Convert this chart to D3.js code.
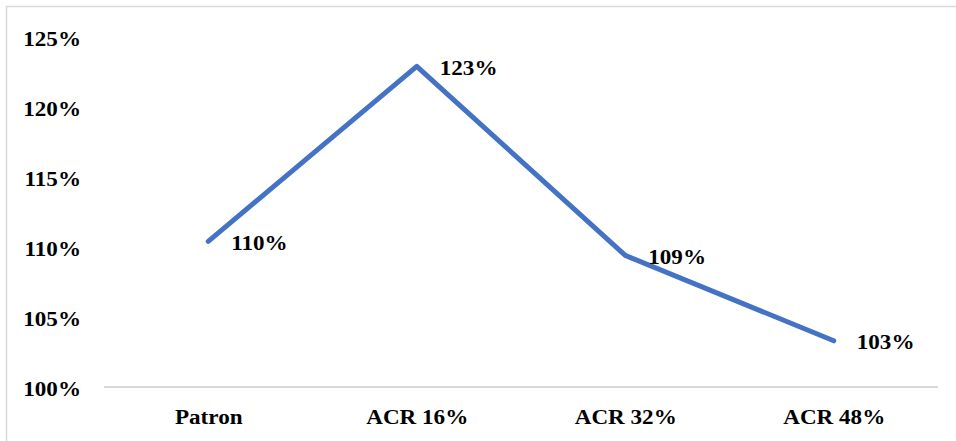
<!DOCTYPE html>
<html>
<head>
<meta charset="utf-8">
<script src="https://cdn.jsdelivr.net/npm/d3@7"></script>
<style>
  html, body { margin: 0; padding: 0; background: #fff; }
  svg { display: block; }
  text { font-family: "Liberation Serif", "Times New Roman", serif; font-weight: bold; fill: #000; }
</style>
</head>
<body>
<svg id="chart" width="956" height="441"></svg>
<script>
// Categories and measured ratios
const categories = ["Patron", "ACR 16%", "ACR 32%", "ACR 48%"];
const values = [1.104, 1.229, 1.094, 1.033];
const yTicks = [1.00, 1.05, 1.10, 1.15, 1.20, 1.25];

const W = 956, H = 441;
const plot = { left: 104, right: 938, top: 37, bottom: 387 };
const fontSize = 21;
const stretch = 1.1;   // wide rendering of the serif labels

const svg = d3.select("#chart");

// outer frame (top and left edges visible)
svg.append("rect")
  .attr("x", 6.5).attr("y", 6.5)
  .attr("width", W + 20).attr("height", H + 20)
  .attr("fill", "none")
  .attr("stroke", "#d9d9d9")
  .attr("stroke-width", 1.5);

const x = d3.scalePoint().domain(categories).range([plot.left, plot.right]).padding(0.5);
const y = d3.scaleLinear().domain([1.00, 1.25]).range([plot.bottom, plot.top]);
const pct = d3.format(".0%");

// y axis: labels only
const yAxis = svg.append("g")
  .attr("transform", `translate(${plot.left},0)`)
  .call(d3.axisLeft(y).tickValues(yTicks).tickFormat(pct).tickSize(0).tickPadding(0));
yAxis.select(".domain").remove();
yAxis.selectAll("text")
  .attr("x", 0)
  .attr("dy", "0.35em")
  .attr("transform", `translate(-23,1) scale(${stretch},1)`)
  .attr("text-anchor", "end")
  .style("font-size", fontSize + "px")
  .style("font-family", "'Liberation Serif', 'Times New Roman', serif")
  .style("font-weight", "bold")
  .attr("fill", "#000");

// x axis: baseline plus category labels
const xAxis = svg.append("g")
  .attr("transform", `translate(0,${plot.bottom})`)
  .call(d3.axisBottom(x).tickSize(0).tickPadding(0));
xAxis.select(".domain")
  .attr("d", `M${plot.left},0H${plot.right}`)
  .attr("stroke", "#d9d9d9")
  .attr("stroke-width", 2);
xAxis.selectAll("text")
  .attr("y", 0)
  .attr("dy", 0)
  .attr("transform", `translate(0,37) scale(${stretch},1)`)
  .attr("text-anchor", "middle")
  .style("font-size", fontSize + "px")
  .style("font-family", "'Liberation Serif', 'Times New Roman', serif")
  .style("font-weight", "bold")
  .attr("fill", "#000");

const data = categories.map((c, i) => ({ c, v: values[i] }));

// series line
svg.append("path")
  .datum(data)
  .attr("fill", "none")
  .attr("stroke", "#4472c4")
  .attr("stroke-width", 5)
  .attr("stroke-linecap", "round")
  .attr("stroke-linejoin", "round")
  .attr("d", d3.line().x(d => x(d.c)).y(d => y(d.v)));

// value labels to the right of each point
svg.append("g").selectAll("text")
  .data(data)
  .join("text")
  .attr("transform", d => `translate(${x(d.c) + 23},${y(d.v) + 1}) scale(${stretch},1)`)
  .attr("dy", "0.35em")
  .attr("text-anchor", "start")
  .style("font-size", fontSize + "px")
  .text(d => pct(d.v));
</script>
</body>
</html>
